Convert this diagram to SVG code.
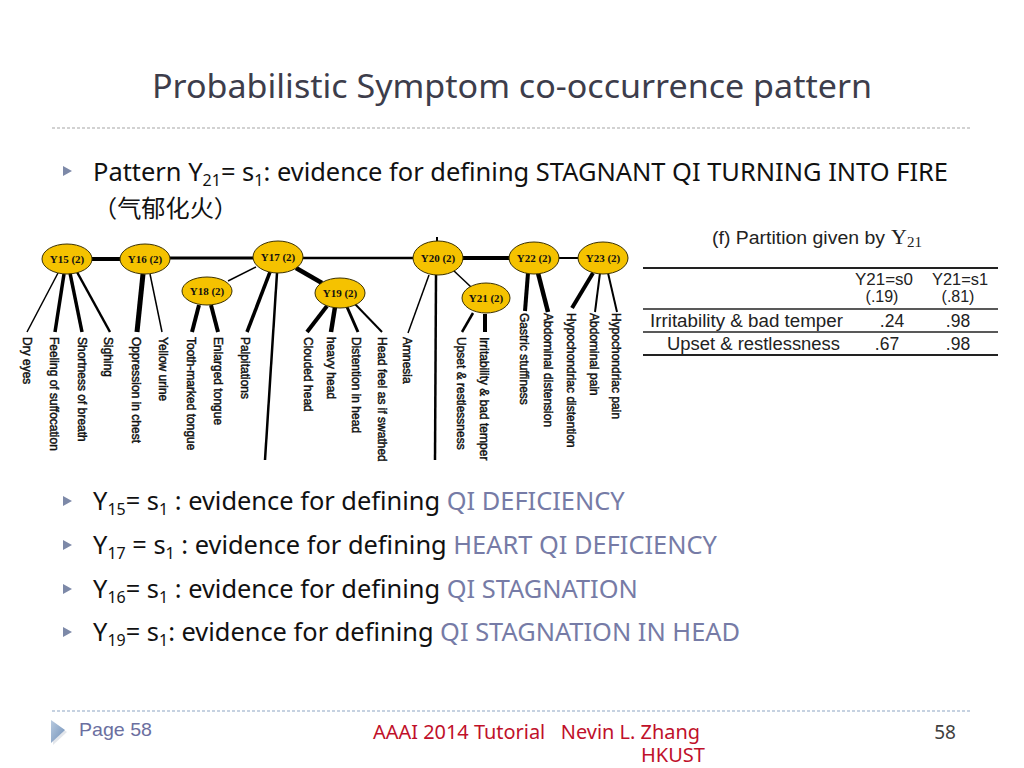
<svg xmlns="http://www.w3.org/2000/svg" width="1024" height="768" viewBox="0 0 1024 768">
<defs>
<style>
.ttl{font-family:"Noto Sans","Open Sans",sans-serif;font-size:33px;fill:#3d3d4b}
.bt{font-family:"Noto Sans","Open Sans","Noto Sans CJK SC",sans-serif;font-size:25.4px;fill:#111}
.hl{fill:#767ba6}
.node ellipse{fill:#f5c200;stroke:#3a3000;stroke-width:1}
.node text{font-family:"Liberation Serif",serif;font-weight:bold;font-size:11px;fill:#111;text-anchor:middle}
.leaf{font-family:"Liberation Sans",Arial,sans-serif;font-size:12px;fill:#111;stroke:#111;stroke-width:0.45}
.edges line{stroke:#000;stroke-linecap:butt}
.tb{font-family:"Liberation Sans",Arial,sans-serif;font-size:17.5px;fill:#222}
.th{font-family:"Liberation Sans",Arial,sans-serif;font-size:16px;fill:#222}
.rule{stroke:#222}
.bul{fill:#7d89a8}
.ft{font-family:"Noto Sans","Open Sans",sans-serif;font-size:19px}
</style>
<linearGradient id="fg" x1="0" y1="0" x2="1" y2="1">
<stop offset="0" stop-color="#b9cbe0"/>
<stop offset="1" stop-color="#6f8fb8"/>
</linearGradient>
</defs>
<rect width="1024" height="768" fill="#fff"/>

<text class="ttl" x="152" y="98" textLength="720" lengthAdjust="spacingAndGlyphs">Probabilistic Symptom co-occurrence pattern</text>
<line x1="52" y1="128" x2="972" y2="128" stroke="#c4c4c4" stroke-width="1.5" stroke-dasharray="3 2"/>

<polygon class="bul" points="63,166 72,171 63,176"/>
<text class="bt" x="93" y="181" textLength="855" lengthAdjust="spacingAndGlyphs">Pattern Y<tspan font-size="16" dy="5">21</tspan><tspan dy="-5">= s</tspan><tspan font-size="16" dy="5">1</tspan><tspan dy="-5">: evidence for defining STAGNANT QI TURNING INTO FIRE</tspan></text>
<text class="bt" x="93" y="217" style="font-family:'Noto Sans CJK SC',sans-serif;font-size:24px" textLength="145" lengthAdjust="spacingAndGlyphs">（气郁化火）</text>

<g id="connectors" class="edges">
<line x1="92" y1="259" x2="120" y2="259" stroke-width="4"/>
<line x1="170" y1="258" x2="253" y2="258" stroke-width="3"/>
<line x1="302" y1="258" x2="413" y2="258" stroke-width="2.5"/>
<line x1="462" y1="258" x2="509" y2="258" stroke-width="4"/>
<line x1="558" y1="258" x2="579" y2="258" stroke-width="2"/>
<line x1="437" y1="237" x2="437" y2="244" stroke-width="2"/>
<line x1="256" y1="267" x2="228" y2="281" stroke-width="1.5"/>
<line x1="296" y1="268" x2="322" y2="283" stroke-width="4.5"/>
<line x1="453" y1="270" x2="471" y2="287" stroke-width="1.5"/>
<line x1="58" y1="273" x2="27" y2="332" stroke-width="1.5"/>
<line x1="64" y1="274" x2="55" y2="332" stroke-width="3.5"/>
<line x1="70" y1="273" x2="82" y2="332" stroke-width="3.5"/>
<line x1="77" y1="272" x2="110" y2="332" stroke-width="2.5"/>
<line x1="143" y1="274" x2="137" y2="332" stroke-width="5"/>
<line x1="150" y1="274" x2="162" y2="332" stroke-width="1.5"/>
<line x1="199" y1="305" x2="192" y2="332" stroke-width="4"/>
<line x1="211" y1="305" x2="218" y2="332" stroke-width="4"/>
<line x1="270" y1="272" x2="247" y2="332" stroke-width="3.5"/>
<line x1="277" y1="273" x2="265" y2="460" stroke-width="2.5"/>
<line x1="327" y1="306" x2="307" y2="332" stroke-width="4"/>
<line x1="335" y1="307" x2="331" y2="332" stroke-width="4.5"/>
<line x1="347" y1="307" x2="358" y2="332" stroke-width="3"/>
<line x1="355" y1="304" x2="382" y2="332" stroke-width="2"/>
<line x1="429" y1="275" x2="408" y2="333" stroke-width="1.5"/>
<line x1="436" y1="275" x2="435" y2="460" stroke-width="2.5"/>
<line x1="473" y1="313" x2="462" y2="332" stroke-width="2.5"/>
<line x1="485" y1="314" x2="485" y2="332" stroke-width="4"/>
<line x1="528" y1="273" x2="525" y2="311" stroke-width="4"/>
<line x1="538" y1="273" x2="548" y2="312" stroke-width="4.5"/>
<line x1="593" y1="273" x2="572" y2="308" stroke-width="4"/>
<line x1="600" y1="273" x2="595" y2="312" stroke-width="2"/>
<line x1="608" y1="273" x2="617" y2="312" stroke-width="2"/>
</g>

<g id="Y15" class="node"><ellipse cx="67" cy="259" rx="25" ry="15"/><text x="67" y="263">Y15 (2)</text></g>
<g id="Y16" class="node"><ellipse cx="145" cy="259" rx="25" ry="15"/><text x="145" y="263">Y16 (2)</text></g>
<g id="Y17" class="node"><ellipse cx="278" cy="257" rx="25" ry="16"/><text x="278" y="261">Y17 (2)</text></g>
<g id="Y18" class="node"><ellipse cx="207" cy="291" rx="25" ry="14"/><text x="207" y="295">Y18 (2)</text></g>
<g id="Y19" class="node"><ellipse cx="340" cy="293" rx="25" ry="15"/><text x="340" y="297">Y19 (2)</text></g>
<g id="Y20" class="node"><ellipse cx="438" cy="258" rx="25" ry="17"/><text x="438" y="262">Y20 (2)</text></g>
<g id="Y21" class="node"><ellipse cx="486" cy="298" rx="24" ry="15"/><text x="486" y="302">Y21 (2)</text></g>
<g id="Y22" class="node"><ellipse cx="534" cy="258" rx="25" ry="16"/><text x="534" y="262">Y22 (2)</text></g>
<g id="Y23" class="node"><ellipse cx="603" cy="258" rx="25" ry="16"/><text x="603" y="262">Y23 (2)</text></g>

<g id="leaves">
<text class="leaf" transform="translate(22.5,337) rotate(90)">Dry eyes</text>
<text class="leaf" transform="translate(49.5,337) rotate(90)">Feeling of suffocation</text>
<text class="leaf" transform="translate(77.5,337) rotate(90)">Shortness of breath</text>
<text class="leaf" transform="translate(103.5,337) rotate(90)">Sighing</text>
<text class="leaf" transform="translate(131.5,337) rotate(90)">Oppression in chest</text>
<text class="leaf" transform="translate(158.5,337) rotate(90)">Yellow urine</text>
<text class="leaf" transform="translate(186.5,337) rotate(90)">Tooth-marked tongue</text>
<text class="leaf" transform="translate(213.5,337) rotate(90)">Enlarged tongue</text>
<text class="leaf" transform="translate(240.5,337) rotate(90)">Palpitations</text>
<text class="leaf" transform="translate(303.5,337) rotate(90)">Clouded head</text>
<text class="leaf" transform="translate(326.5,337) rotate(90)">heavy head</text>
<text class="leaf" transform="translate(351.5,337) rotate(90)">Distention in head</text>
<text class="leaf" transform="translate(377.5,337) rotate(90)">Head feel as if swathed</text>
<text class="leaf" transform="translate(402.5,337) rotate(90)">Amnesia</text>
<text class="leaf" transform="translate(456.5,337) rotate(90)">Upset &amp; restlessness</text>
<text class="leaf" transform="translate(479.5,337) rotate(90)">Irritability &amp; bad temper</text>
<text class="leaf" transform="translate(519.5,313) rotate(90)">Gastric stuffiness</text>
<text class="leaf" transform="translate(543.5,313) rotate(90)">Abdominal distension</text>
<text class="leaf" transform="translate(566.5,313) rotate(90)">Hypochondriac distention</text>
<text class="leaf" transform="translate(589.5,313) rotate(90)">Abdominal pain</text>
<text class="leaf" transform="translate(611.5,313) rotate(90)">Hypochondriac pain</text>
</g>

<g id="table">
<text class="tb" x="712" y="244" textLength="173" lengthAdjust="spacingAndGlyphs">(f) Partition given by</text>
<text x="891" y="244" font-family="'Liberation Serif',serif" font-size="22" fill="#222">Y<tspan font-size="15" dy="3">21</tspan></text>
<line class="rule" x1="643" y1="268" x2="998" y2="268" stroke-width="2"/>
<text class="th" x="855" y="285" textLength="58" lengthAdjust="spacingAndGlyphs">Y21=s0</text>
<text class="th" x="882" y="302" text-anchor="middle">(.19)</text>
<text class="th" x="932" y="285" textLength="56" lengthAdjust="spacingAndGlyphs">Y21=s1</text>
<text class="th" x="958" y="302" text-anchor="middle">(.81)</text>
<line class="rule" x1="643" y1="309" x2="998" y2="309" stroke-width="1.5"/>
<text class="tb" x="650" y="327" textLength="193" lengthAdjust="spacingAndGlyphs">Irritability &amp; bad temper</text>
<text class="tb" x="892" y="327" text-anchor="middle">.24</text>
<text class="tb" x="958" y="327" text-anchor="middle">.98</text>
<line class="rule" x1="643" y1="332" x2="998" y2="332" stroke-width="1.5"/>
<text class="tb" x="667" y="350" textLength="173" lengthAdjust="spacingAndGlyphs">Upset &amp; restlessness</text>
<text class="tb" x="887" y="350" text-anchor="middle">.67</text>
<text class="tb" x="958" y="350" text-anchor="middle">.98</text>
<line class="rule" x1="643" y1="355" x2="998" y2="355" stroke-width="2"/>
</g>

<polygon class="bul" points="63,496 72,501 63,506"/>
<text class="bt" x="93" y="510">Y<tspan font-size="16" dy="5">15</tspan><tspan dy="-5">= s</tspan><tspan font-size="16" dy="5">1</tspan><tspan dy="-5"> : evidence for defining </tspan><tspan class="hl">QI DEFICIENCY</tspan></text>
<polygon class="bul" points="63,540 72,545 63,550"/>
<text class="bt" x="93" y="554">Y<tspan font-size="16" dy="5">17</tspan><tspan dy="-5"> = s</tspan><tspan font-size="16" dy="5">1</tspan><tspan dy="-5"> : evidence for defining </tspan><tspan class="hl">HEART QI DEFICIENCY</tspan></text>
<polygon class="bul" points="63,584 72,589 63,594"/>
<text class="bt" x="93" y="598">Y<tspan font-size="16" dy="5">16</tspan><tspan dy="-5">= s</tspan><tspan font-size="16" dy="5">1</tspan><tspan dy="-5"> : evidence for defining </tspan><tspan class="hl">QI STAGNATION</tspan></text>
<polygon class="bul" points="63,627 72,632 63,637"/>
<text class="bt" x="93" y="641">Y<tspan font-size="16" dy="5">19</tspan><tspan dy="-5">= s</tspan><tspan font-size="16" dy="5">1</tspan><tspan dy="-5">: evidence for defining </tspan><tspan class="hl">QI STAGNATION IN HEAD</tspan></text>

<line x1="52" y1="711" x2="972" y2="711" stroke="#b4c4d8" stroke-width="1.5" stroke-dasharray="3 2"/>
<polygon points="53,722 67,732 53,745" fill="#d0d6de" opacity="0.6"/>
<polygon points="51,720 65,730 51,743" fill="url(#fg)"/>
<text x="79" y="736" font-family="'Liberation Sans',Arial,sans-serif" font-size="19" fill="#6b6fa0" textLength="73" lengthAdjust="spacingAndGlyphs">Page 58</text>
<text class="ft" x="373" y="739" fill="#c0102a" xml:space="preserve" textLength="327" lengthAdjust="spacingAndGlyphs">AAAI 2014 Tutorial   Nevin L. Zhang</text>
<text class="ft" x="641" y="762" fill="#c0102a" textLength="64" lengthAdjust="spacingAndGlyphs">HKUST</text>
<text class="ft" x="956" y="739" fill="#404040" text-anchor="end">58</text>
</svg>
